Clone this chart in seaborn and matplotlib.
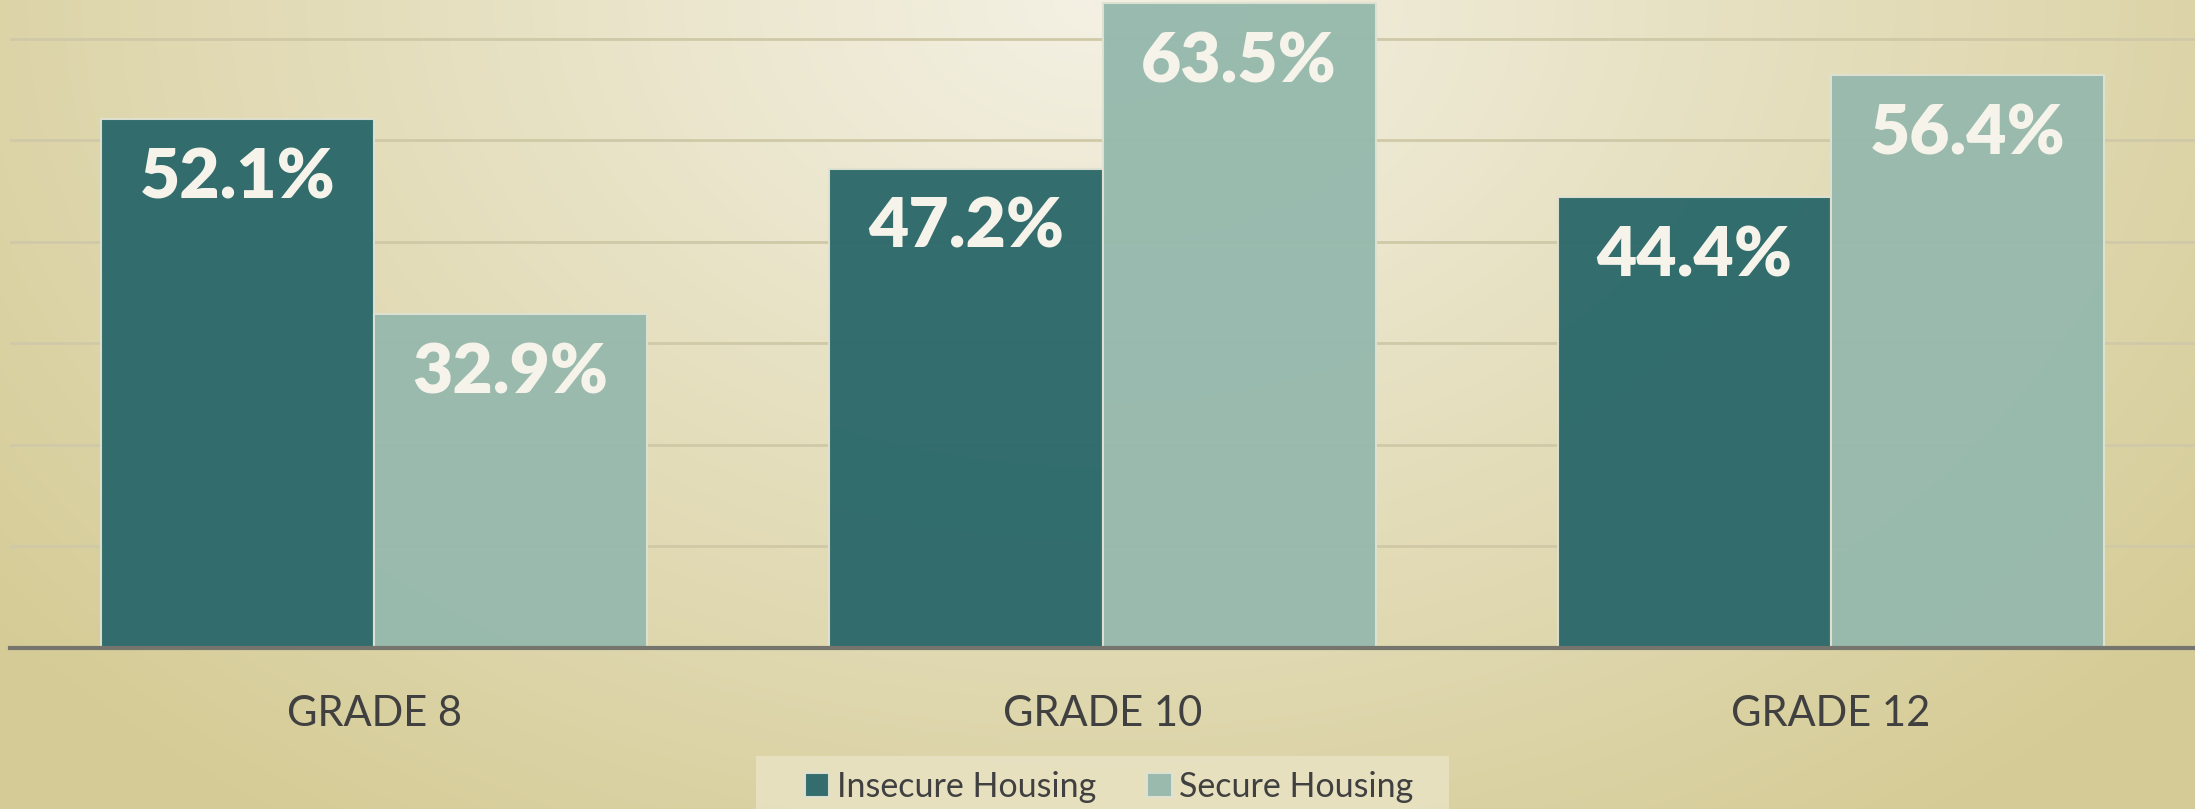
import numpy as np
import pandas as pd
import matplotlib
matplotlib.use("Agg")
import matplotlib.pyplot as plt
from matplotlib.patches import Rectangle
import seaborn as sns

grades = ["GRADE 8", "GRADE 10", "GRADE 12"]
series = ["Insecure Housing", "Secure Housing"]
insecure = [52.1, 47.2, 44.4]
secure = [32.9, 63.5, 56.4]
colors = ["#2b686a", "#96b9ad"]

df = pd.DataFrame({
    "grade": grades * 2,
    "housing": [series[0]] * 3 + [series[1]] * 3,
    "value": insecure + secure,
})

sns.set_theme(style="white")
plt.rcParams["font.family"] = ["Lato", "DejaVu Sans"]

W, H = 2195, 809
fig = plt.figure(figsize=(W / 100, H / 100), dpi=100)

# soft radial background, light at the top centre
bg = fig.add_axes([0, 0, 1, 1], zorder=-5)
yy, xx = np.mgrid[0:H, 0:W]
t = np.clip(np.sqrt(((xx - 1100) / 1400) ** 2 + (yy / 1000) ** 2), 0, 1)
light = np.array([0xf4, 0xf1, 0xe4]) / 255
dark = np.array([0xd6, 0xcc, 0x97]) / 255
img = light[None, None, :] * (1 - t[..., None]) + dark[None, None, :] * t[..., None]
bg.imshow(img, aspect="auto", extent=[0, 1, 0, 1])
bg.axis("off")
# legend panel
bg.add_patch(Rectangle((756 / W, 0), (1449 - 756) / W, (809 - 756) / H,
                       transform=bg.transAxes, facecolor="#ebe5c8", alpha=0.75,
                       edgecolor="none", zorder=2))

ax = fig.add_axes([10 / W, (H - 648) / H, 2185 / W, 648 / H])
ax.set_facecolor("none")

sns.barplot(data=df, x="grade", y="value", hue="housing", palette=colors,
            saturation=1, width=0.75, alpha=0.96, edgecolor="#dfe2d2",
            linewidth=1.5, ax=ax, zorder=3)

ax.set_xlim(-0.5, 2.5)
ax.set_ylim(0, 63.8)
ax.set_yticks([10, 20, 30, 40, 50, 60])
ax.yaxis.grid(True, color="#d0c9a8", linewidth=2, zorder=0)
ax.tick_params(axis="y", left=False, labelleft=False)
ax.tick_params(axis="x", bottom=False, labelsize=30, colors="#404040", pad=28)
ax.set_xlabel("")
ax.set_ylabel("")
for s in ["top", "right", "left"]:
    ax.spines[s].set_visible(False)
ax.spines["bottom"].set_color("#75756d")
ax.spines["bottom"].set_linewidth(3)
ax.spines["bottom"].set_zorder(5)

for container in ax.containers:
    for bar in container:
        h = bar.get_height()
        ax.annotate(f"{h:.1f}%", (bar.get_x() + bar.get_width() / 2, h),
                    xytext=(0, -43), textcoords="offset points",
                    ha="center", va="center", fontsize=50, fontweight="heavy",
                    color="#f6f3ea", zorder=6)

handles, labels = ax.get_legend_handles_labels()
ax.get_legend().remove()
leg = fig.legend(handles, labels, loc="center", bbox_to_anchor=(1109 / W, 1 - 787 / H),
                 ncol=2, frameon=False, fontsize=24.5,
                 handlelength=0.72, handleheight=0.72, handletextpad=0.22,
                 columnspacing=1.5, borderpad=0, borderaxespad=0,
                 labelcolor="#404040")

fig.savefig("out.png", dpi=100)
